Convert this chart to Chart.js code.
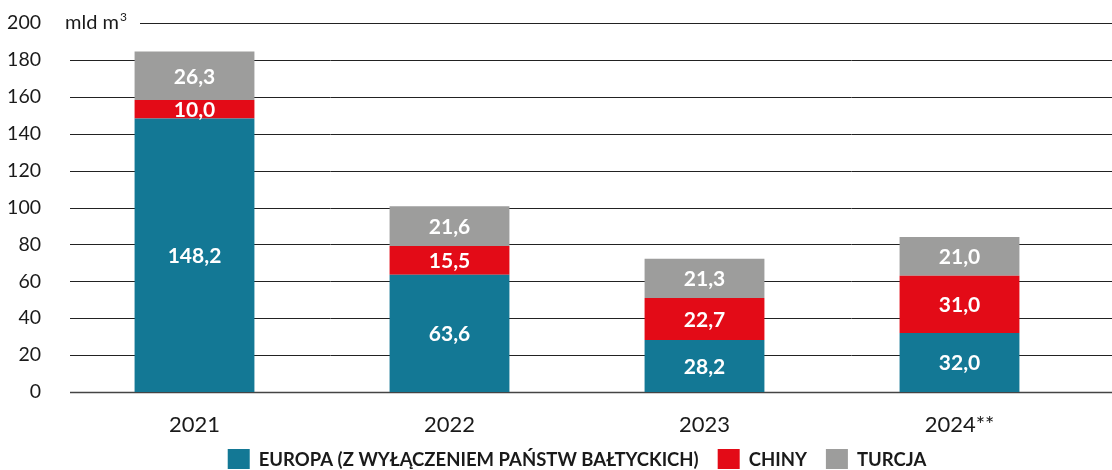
<!DOCTYPE html>
<html>
<head>
<meta charset="utf-8">
<script src="https://cdn.jsdelivr.net/npm/chart.js@4"></script>
<style>
  html, body { margin: 0; padding: 0; background: #fff; }
  #wrap { width: 1112px; height: 470px; }
</style>
</head>
<body>
<div id="wrap"><canvas id="chart"></canvas></div>
<script>
var years = ['2021', '2022', '2023', '2024**'];
var europa = [148.2, 63.6, 28.2, 32.0];
var chiny = [10.0, 15.5, 22.7, 31.0];
var turcja = [26.3, 21.6, 21.3, 21.0];
var yTicks = [0, 20, 40, 60, 80, 100, 120, 140, 160, 180, 200];
var unitLabel = 'mld m';

// gridlines drawn across the full width, with a gap for the unit label
var gridPlugin = {
    id: 'grid',
    beforeDatasetsDraw: function(chart) {
        var ctx = chart.ctx;
        var y = chart.scales.y;
        ctx.save();
        yTicks.forEach(function(t) {
            var py = Math.round(y.getPixelForValue(t)) + 0.5;
            var x0 = t === 200 ? 140 : 70;
            ctx.beginPath();
            ctx.strokeStyle = t === 0 ? '#444' : '#222';
            ctx.lineWidth = t === 0 ? 1.5 : 1;
            ctx.moveTo(x0, py);
            ctx.lineTo(chart.width, py);
            ctx.stroke();
        });
        // unit label
        var py = y.getPixelForValue(200);
        ctx.fillStyle = '#1a1a1a';
        ctx.font = '20px Lato';
        ctx.textBaseline = 'middle';
        ctx.textAlign = 'left';
        ctx.fillText(unitLabel, 65, py);
        var w = ctx.measureText(unitLabel).width;
        ctx.font = '12px Lato';
        ctx.fillText('3', 65 + w + 1, py - 6);
        ctx.restore();
    }
};

// white value labels inside bar segments
var labelPlugin = {
    id: 'values',
    afterDatasetsDraw: function(chart) {
        var ctx = chart.ctx;
        ctx.save();
        ctx.fillStyle = '#fff';
        ctx.font = 'bold 21px Lato';
        ctx.textAlign = 'center';
        ctx.textBaseline = 'middle';
        chart.data.datasets.forEach(function(ds, i) {
            chart.getDatasetMeta(i).data.forEach(function(bar, j) {
                var mid = (bar.y + bar.base) / 2;
                ctx.fillText(ds.data[j].toFixed(1).replace('.', ','), bar.x, mid + 1);
            });
        });
        ctx.restore();
    }
};

// legend drawn by hand, centred under the plot area
var legendPlugin = {
    id: 'bottomLegend',
    afterDraw: function(chart) {
        var ctx = chart.ctx;
        var boxW = 22, boxH = 20, gapText = 9, gapItem = 19;
        ctx.save();
        ctx.font = 'bold 18.5px Lato';
        ctx.textBaseline = 'middle';
        ctx.textAlign = 'left';
        var items = chart.data.datasets.map(function(ds) {
            return { text: ds.label, color: ds.backgroundColor, w: ctx.measureText(ds.label).width };
        });
        var total = items.reduce(function(s, it) { return s + boxW + gapText + it.w; }, 0) + gapItem * (items.length - 1);
        var cx = (chart.chartArea.left + chart.chartArea.right) / 2;
        var x = cx - total / 2;
        var cy = 459;
        items.forEach(function(it) {
            ctx.fillStyle = it.color;
            ctx.fillRect(x, cy - boxH / 2, boxW, boxH);
            ctx.fillStyle = '#1a1a1a';
            ctx.fillText(it.text, x + boxW + gapText, cy + 1);
            x += boxW + gapText + it.w + gapItem;
        });
        ctx.restore();
    }
};

var ctx = document.getElementById('chart').getContext('2d');
new Chart(ctx, {
    type: 'bar',
    data: {
        labels: years,
        datasets: [
            { label: 'EUROPA (Z WYŁĄCZENIEM PAŃSTW BAŁTYCKICH)', data: europa, backgroundColor: '#137895' },
            { label: 'CHINY', data: chiny, backgroundColor: '#e30b17' },
            { label: 'TURCJA', data: turcja, backgroundColor: '#9d9d9c' }
        ]
    },
    options: {
        responsive: true,
        maintainAspectRatio: false,
        animation: false,
        layout: { padding: { top: 23, right: 25, left: 0, bottom: 28 } },
        datasets: {
            bar: { categoryPercentage: 1.0, barPercentage: 0.47 }
        },
        scales: {
            x: {
                stacked: true,
                afterFit: function(scale) { scale.height = 50; scale.paddingLeft = 0; scale.paddingRight = 0; },
                grid: { display: false },
                border: { display: false },
                ticks: { color: '#1a1a1a', font: { family: 'Lato', size: 22 }, padding: 12 }
            },
            y: {
                stacked: true,
                min: 0,
                max: 200,
                afterFit: function(scale) { scale.width = 67; scale.paddingTop = 0; scale.paddingBottom = 0; },
                grid: { display: false },
                border: { display: false },
                ticks: {
                    stepSize: 20,
                    color: '#1a1a1a',
                    padding: 18,
                    font: { family: 'Lato', size: 19.5 }
                }
            }
        },
        plugins: {
            legend: { display: false },
            tooltip: { enabled: false }
        }
    },
    plugins: [gridPlugin, labelPlugin, legendPlugin]
});
</script>
</body>
</html>
